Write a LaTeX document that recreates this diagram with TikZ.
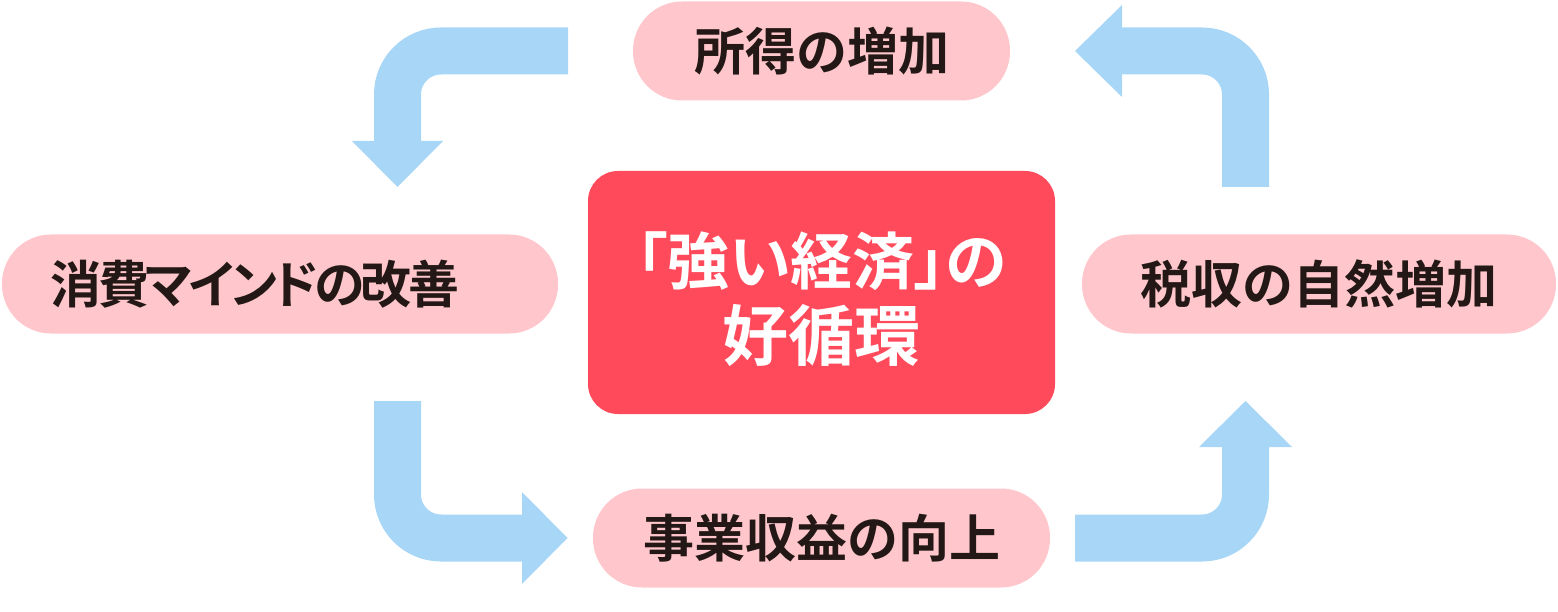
\documentclass[tikz,border=0pt]{standalone}
\usepackage{fontspec}
\setmainfont{Noto Sans CJK JP}
\newfontfamily\jpb{Noto Sans CJK JP Bold}
\newfontfamily\jpbp{Noto Sans CJK JP Bold}[RawFeature=+palt]
\newfontfamily\jpbt{Noto Sans CJK JP Bold}[RawFeature=+palt, LetterSpace=-7.5]
\definecolor{pillpink}{RGB}{255,199,204}
\definecolor{corered}{RGB}{255,74,91}
\definecolor{flowblue}{RGB}{168,214,247}
\definecolor{inkdark}{RGB}{35,24,21}
\tikzset{
  pill/.style={fill=pillpink, draw=none, rounded corners=49pt, minimum height=99pt,
    inner sep=0pt, font=\jpb\fontsize{51}{60}\selectfont, text=inkdark},
  core/.style={fill=corered, draw=none, rounded corners=30pt, minimum width=467pt,
    minimum height=243pt, inner sep=0pt},
  coretext/.style={text=white, align=center, inner sep=0pt,
    font=\jpbp\fontsize{66}{76}\selectfont},
  flow/.style={draw=flowblue, line width=47pt, rounded corners=43.5pt},
  flowhead/.style={fill=flowblue, draw=none}
}
\begin{document}
\begin{tikzpicture}[x=1pt, y=-1pt]
\useasboundingbox (0,0) rectangle (1558,612);
\node[pill, minimum width=377pt] (inc) at (821.5,51) {所得の増加};
\node[pill, minimum width=556pt, font=\jpbt\fontsize{51}{60}\selectfont] (cons) at (280,284) {\hspace*{-50pt}消費マインドの改善};
\node[pill, minimum width=474pt] (tax) at (1319,284) {税収の自然増加};
\node[pill, minimum width=457pt] (prof) at (821.5,538) {事業収益の向上};
\node[core] (core) at (821.5,292.5) {};
\node[coretext] (title) at (821.5,299)
  {{\fontsize{62}{76}\selectfont 「強い経済」の}\\好循環};

% top-left arrow
\coordinate (a1s) at (568,51);
\coordinate (a1c) at (397.5,51);
\coordinate (a1e) at (397.5,142);
\draw[flow] (a1s) -- (a1c) -- (a1e);
\fill[flowhead] (352,141) -- (443,141) -- (397.5,187) -- cycle;
% bottom-left arrow
\coordinate (a2s) at (397.5,401);
\coordinate (a2c) at (397.5,538);
\coordinate (a2e) at (523,538);
\draw[flow] (a2s) -- (a2c) -- (a2e);
\fill[flowhead] (522,492) -- (522,584) -- (567.5,538) -- cycle;
% bottom-right arrow
\coordinate (a3s) at (1075,538);
\coordinate (a3c) at (1245.5,538);
\coordinate (a3e) at (1245.5,446);
\draw[flow] (a3s) -- (a3c) -- (a3e);
\fill[flowhead] (1199,447) -- (1292,447) -- (1245.5,401) -- cycle;
% top-right arrow
\coordinate (a4s) at (1245.5,187);
\coordinate (a4c) at (1245.5,51);
\coordinate (a4e) at (1121,51);
\draw[flow] (a4s) -- (a4c) -- (a4e);
\fill[flowhead] (1122,5) -- (1122,97) -- (1075,51) -- cycle;
\end{tikzpicture}
\end{document}
